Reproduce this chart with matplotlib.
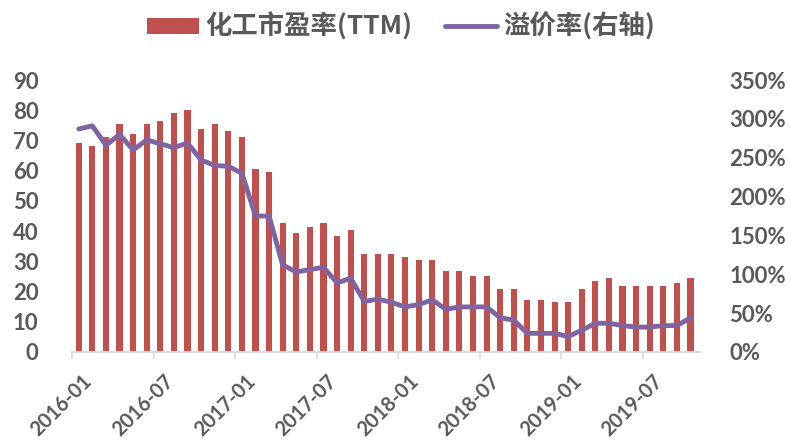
import matplotlib
matplotlib.use('Agg')
import matplotlib.pyplot as plt
from matplotlib.transforms import ScaledTranslation
import numpy as np

# Monthly data 2016-01 .. 2019-10
months = [f'{y}-{m:02d}' for y in range(2016, 2020) for m in range(1, 13)][:46]
pe_ttm = [69, 68, 71, 75.5, 72, 75.5, 76.5, 79, 80, 73.7, 75.5, 73, 71, 60.5, 59.7, 42.8,
          39.3, 41.2, 42.8, 38.4, 40.3, 32.4, 32.4, 32.4, 31.5, 30.6, 30.6, 26.9, 26.9, 25.3,
          25.3, 20.9, 20.9, 17.3, 17.3, 16.5, 16.5, 20.9, 23.4, 24.4, 21.7, 21.7, 21.7, 21.7,
          22.8, 24.4]
premium = [287, 291, 266, 280, 260, 273, 268, 263, 269, 247, 240, 239, 230, 175, 175, 112,
           103, 106, 109, 89, 95, 65, 68, 64, 58, 61, 67, 55, 58, 58,
           58, 44, 41, 24, 24, 24, 20, 28, 37, 37, 34, 32, 32, 34, 34, 44]

bar_label = '化工市盈率(TTM)'
line_label = '溢价率(右轴)'

gray = '#595959'

fig = plt.figure(figsize=(7.9, 4.48), dpi=100)
ax = fig.add_axes([0.0911, 0.2143, 0.795, 0.6071])
ax2 = ax.twinx()

x = np.arange(len(months))
bars = ax.bar(x, pe_ttm, width=0.45, color='#C0504D', label=bar_label, zorder=2)
line, = ax2.plot(x, premium, color='#8064A2', lw=3.5, label=line_label, zorder=3,
                 solid_joinstyle='round', solid_capstyle='round')

ax.set_xlim(-0.5, len(months) - 0.3)
ax.set_ylim(0, 90)
ax.set_yticks(range(0, 91, 10))
ax2.set_ylim(0, 350)
ax2.set_yticks(range(0, 351, 50))
ax2.set_yticklabels([f'{v}%' for v in range(0, 351, 50)])

tick_pos = np.arange(0, len(months), 6) - 0.5
ax.set_xticks(tick_pos)
ax.set_xticklabels([months[i] for i in range(0, len(months), 6)], rotation=45,
                   ha='right', va='center', rotation_mode='anchor')

for a in (ax, ax2):
    for s in ('top', 'left', 'right'):
        a.spines[s].set_visible(False)
    a.spines['bottom'].set_color('#d9d9d9')
    a.spines['bottom'].set_linewidth(1.2)

ax.tick_params(axis='x', length=5, width=1.2, color='#d9d9d9', pad=14)
ax.tick_params(axis='y', length=0, pad=24)
ax2.tick_params(axis='y', length=0, pad=21)
for lab in ax.get_yticklabels() + ax2.get_yticklabels():
    lab.set_fontfamily('Lato')
    lab.set_fontweight('bold')
    lab.set_fontsize(16)
    lab.set_color(gray)
for lab in ax.get_xticklabels():
    lab.set_fontfamily('Lato')
    lab.set_fontweight('bold')
    lab.set_fontsize(14.5)
    lab.set_color(gray)
# shift x labels a bit to the right like the original
shift = ScaledTranslation(17 / 100, 0, fig.dpi_scale_trans)
for lab in ax.get_xticklabels():
    lab.set_transform(lab.get_transform() + shift)

leg = fig.legend([bars, line], [bar_label, line_label], loc='center',
                 bbox_to_anchor=(0.508, 0.94), ncol=2, frameon=False,
                 handlelength=1.95, handleheight=0.57, handletextpad=0.25,
                 columnspacing=1.25,
                 prop=dict(family=['Noto Sans CJK SC', 'DejaVu Sans'], weight='bold', size=19))
for t in leg.get_texts():
    t.set_color(gray)

fig.savefig('out.png', dpi=100)
